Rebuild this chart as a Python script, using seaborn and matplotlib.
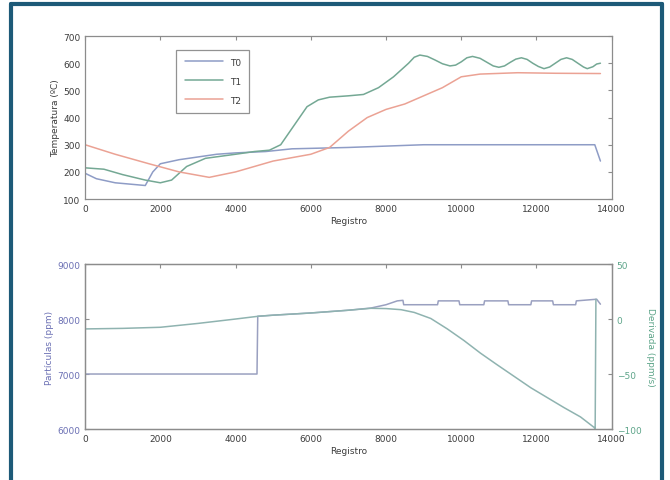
import numpy as np
import pandas as pd
import matplotlib
matplotlib.use("Agg")
import matplotlib.pyplot as plt
import seaborn as sns
from matplotlib.lines import Line2D

# --- datos ---
# panel superior: temperaturas
t0_x = [0, 300, 800, 1200, 1600, 1800, 2000, 2500, 3000, 3500, 4000, 4800, 5500, 7000, 8000, 9000, 13550, 13700]
t0_y = [195, 175, 160, 155, 150, 200, 230, 245, 255, 265, 270, 275, 285, 290, 295, 300, 300, 240]

t1_x = [0, 500, 1000, 1600, 2000, 2300, 2700, 3200, 4000, 4500, 4900, 5200, 5600, 5900, 6200, 6500,
        7000, 7400, 7800, 8200, 8600, 8750, 8900, 9100, 9300, 9500, 9700, 9850, 10000, 10150, 10300,
        10500, 10700, 10850, 11000, 11150, 11300, 11450, 11600, 11750, 11900, 12050, 12200, 12350,
        12500, 12650, 12800, 12950, 13100, 13250, 13350, 13500, 13600, 13700]
t1_y = [215, 210, 190, 170, 160, 170, 220, 250, 265, 275, 280, 300, 380, 440, 465, 475,
        480, 485, 510, 550, 600, 622, 630, 625, 612, 598, 590, 593, 605, 620, 625,
        618, 602, 590, 585, 590, 603, 615, 620, 614, 600, 588, 580, 586,
        600, 614, 620, 614, 600, 586, 580, 587, 597, 600]

t2_x = [0, 800, 1700, 2500, 3300, 4000, 5000, 6000, 6500, 7000, 7500, 8000, 8500, 9000, 9500,
        10000, 10500, 11500, 12500, 13700]
t2_y = [300, 265, 230, 200, 180, 200, 240, 265, 290, 350, 400, 430, 450, 480, 510,
        550, 560, 565, 563, 562]

# panel inferior: particulas (eje izq.) y derivada (eje der.)
part_x = [0, 4570, 4590, 5000, 6000, 7000, 7600, 8000, 8300, 8450, 8470, 9370, 9390, 9940, 9960,
          10600, 10620, 11240, 11260, 11850, 11870, 12430, 12450, 13040, 13060, 13600, 13700]
part_y = [7000, 7000, 8050, 8070, 8110, 8160, 8200, 8260, 8330, 8340, 8260, 8260, 8330, 8330, 8260,
          8260, 8330, 8330, 8260, 8260, 8330, 8330, 8260, 8260, 8330, 8360, 8270]

der_x = [0, 1000, 2000, 3000, 4000, 4600, 5000, 6000, 7000, 7600, 8000, 8400, 8750, 9190, 9630, 10070,
         10510, 10950, 11400, 11850, 12290, 12730, 13170, 13530, 13560, 13580]
der_y = [-9, -8.5, -7.5, -4, 0, 2.5, 3.5, 5.5, 8, 9.75, 9.5, 8.5, 6, 0.5, -9, -19.5,
         -31, -41.5, -52, -62.5, -71.5, -80.5, -89, -98.5, -100, 18]

c_t0 = "#8e9cc6"
c_t1 = "#74a894"
c_t2 = "#eba294"
c_part = "#9aa0c0"
c_der = "#8fb3b0"
c_left = "#6b70b4"
c_right = "#5ea58a"
c_axis = "#8c8c8c"
c_text = "#3c3c3c"

sns.set_style("white")
plt.rcParams["font.family"] = ["DejaVu Sans"]
plt.rcParams["font.size"] = 6.5

fig = plt.figure(figsize=(6.7, 4.81), dpi=100)


def estilo(ax, cl=c_text):
    for s in ax.spines.values():
        s.set_color(c_axis)
        s.set_linewidth(0.9)
    ax.tick_params(direction="in", length=3, width=0.8, color=c_axis,
                   labelsize=6.5, labelcolor=cl, top=True)


# ---------- panel superior ----------
ax1 = fig.add_axes([0.127, 0.584, 0.786, 0.339])
df_t = pd.concat([
    pd.DataFrame({"Registro": t0_x, "T": t0_y, "serie": "T0"}),
    pd.DataFrame({"Registro": t1_x, "T": t1_y, "serie": "T1"}),
    pd.DataFrame({"Registro": t2_x, "T": t2_y, "serie": "T2"}),
])
sns.lineplot(data=df_t, x="Registro", y="T", hue="serie", sort=False, estimator=None,
             palette={"T0": c_t0, "T1": c_t1, "T2": c_t2}, linewidth=1.1, ax=ax1)
ax1.set_xlim(0, 14000)
ax1.set_ylim(100, 700)
ax1.set_xticks(range(0, 14001, 2000))
ax1.set_yticks(range(100, 701, 100))
ax1.set_xlabel("Registro", color=c_text, fontsize=6.5, labelpad=2)
ax1.set_ylabel("Temperatura (ºC)", color=c_text, fontsize=6.5, labelpad=2)
estilo(ax1)
ax1.tick_params(right=True)
leg = ax1.legend(loc="upper left", bbox_to_anchor=(0.165, 0.945), frameon=True, fancybox=False,
                 handlelength=4.2, labelspacing=1.1, borderpad=0.9, fontsize=6.5, title=None)
leg.get_frame().set_edgecolor("#777777")
leg.get_frame().set_linewidth(0.9)
for t in leg.get_texts():
    t.set_color(c_text)

# ---------- panel inferior ----------
ax2 = fig.add_axes([0.127, 0.106, 0.786, 0.343])
sns.lineplot(x=part_x, y=part_y, sort=False, estimator=None, color=c_part, linewidth=1.1, ax=ax2)
ax2.set_xlim(0, 14000)
ax2.set_ylim(6000, 9000)
ax2.set_xticks(range(0, 14001, 2000))
ax2.set_yticks([6000, 7000, 8000, 9000])
ax2.set_xlabel("Registro", color=c_text, fontsize=6.5, labelpad=2)
ax2.set_ylabel("Partículas (ppm)", color=c_left, fontsize=6.5, labelpad=2)
estilo(ax2)
ax2.tick_params(axis="y", labelcolor=c_left)

ax3 = ax2.twinx()
sns.lineplot(x=der_x, y=der_y, sort=False, estimator=None, color=c_der, linewidth=1.1, ax=ax3)
ax3.set_ylim(-100, 50)
ax3.set_yticks([-100, -50, 0, 50])
ax3.set_ylabel("Derivada (ppm/s)", color=c_right, fontsize=6.5, rotation=270, labelpad=10)
estilo(ax3, c_right)

# marco del recuadro
for xs, ys in [([0.016, 0.016], [0.0, 0.99]), ([0.016, 0.988], [0.99, 0.99]), ([0.988, 0.988], [0.99, 0.0])]:
    fig.add_artist(Line2D(xs, ys, transform=fig.transFigure, color="#1d5a78", linewidth=3))

fig.savefig("out.png", dpi=100)
